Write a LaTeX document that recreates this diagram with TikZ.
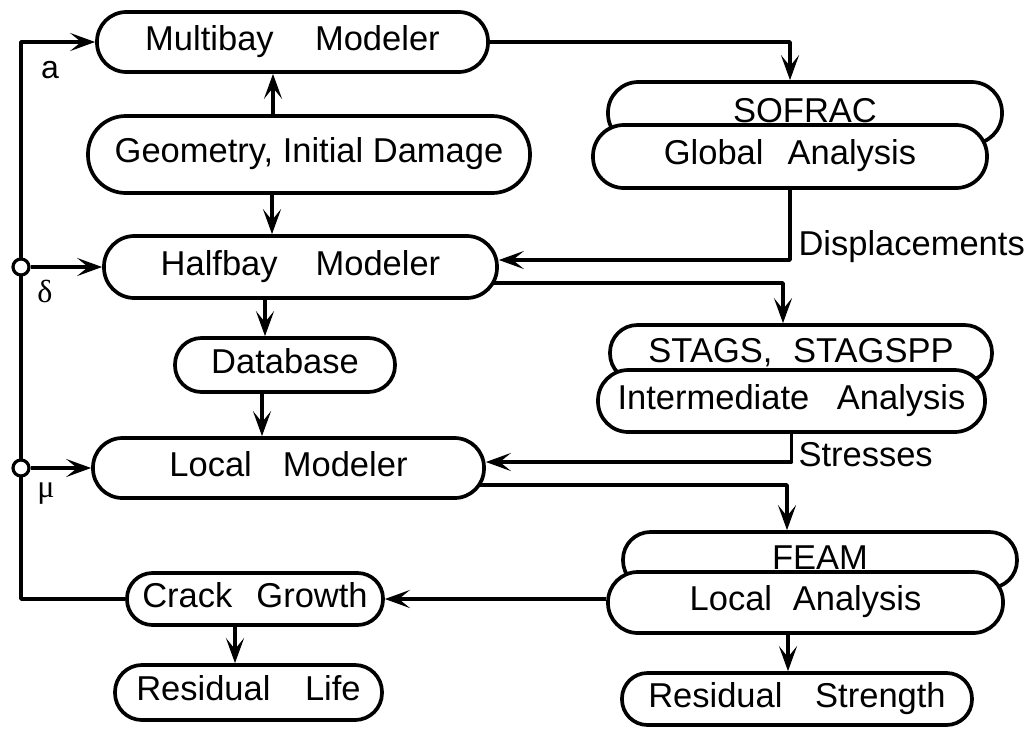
\documentclass[tikz,border=0pt]{standalone}
\usepackage{fontspec}
\setmainfont{Liberation Sans}
\newfontfamily\grk{Liberation Serif}
\usetikzlibrary{arrows.meta,backgrounds,calc}
\begin{document}
\begin{tikzpicture}[x=1pt,y=-1pt,
  every node/.style={font=\fontsize{34.5}{40}\selectfont},
  line/.style={line width=3.7pt, line join=round},
  arr/.style={line, -{Stealth[length=25pt,width=18pt,inset=11pt]}},
  box/.style n args={2}{draw, line width=3.7pt, fill=white, rectangle,
    rounded corners=#2*0.49pt, inner sep=0pt, minimum width=#1pt,
    minimum height=#2pt, text height=24.5pt, text depth=8pt},
  backbox/.style n args={2}{box={#1}{#2}, text depth=6pt},
  junction/.style={circle, draw, line width=3.2pt, fill=white,
    minimum size=16pt, inner sep=0pt},
  tag/.style={font=\fontsize{32}{36}\selectfont}
]
\useasboundingbox (0,0) rectangle (1031,729);

% left column
\node[box={391}{60}] (MB)  at (292.5,42)   {Multibay\hspace{1.2em}Modeler};
\node[box={442}{77}] (GEO) at (309,154.5)  {Geometry, Initial Damage};
\node[box={393}{62}] (HB)  at (300.5,267)  {Halfbay\hspace{1.1em}Modeler};
\node[box={220}{54}] (DB)  at (285,365)    {Database};
\node[box={391}{60}] (LM)  at (288.5,468)  {Local\hspace{0.9em}Modeler};
\node[box={256}{52}] (CG)  at (255,599)    {Crack\hspace{0.7em}Growth};
\node[box={267}{55}] (RL)  at (248.5,692.5){Residual\hspace{1em}Life};

% right column (stacked boxes)
\node[backbox={394}{62}] (sofracbox) at (805,113) {SOFRAC};
\node[box={394}{63}] (GA) at (790,156.5) {Global\hspace{0.7em}Analysis};
\node[backbox={382}{56}] (stagsbox) at (801,353) {STAGS,\hspace{0.6em}STAGSPP};
\node[box={387}{62}] (IA) at (791.5,401) {Intermediate\hspace{0.8em}Analysis};
\node[backbox={394}{56}] (feambox) at (820,560) {FEAM};
\node[box={395}{61}] (LA) at (805.5,602.5) {Local\hspace{0.6em}Analysis};
\node[box={350}{52}] (RS) at (797,699) {Residual\hspace{0.95em}Strength};

% junctions and labels
\node[junction] (cd) at (21,267) {};
\node[junction] (cm) at (21,468) {};
\node[tag] (la) at (50,70) {a};
\node[tag] (ld) at (45,291) {\grk δ};
\node[tag] (lmu) at (46,494) {\grk μ};
\node[anchor=west] (disp) at (795,247) {Displacements};
\node[anchor=west] (str) at (795,455) {Stresses};

% helper coordinates
\coordinate (lt) at (21,42);
\coordinate (lb) at (21,599);
\coordinate (k1) at (790,42);
\coordinate (k2) at (783,283);
\coordinate (k3) at (787,485);
\coordinate (xa) at (273,0);
\coordinate (xb) at (272,0);
\coordinate (xc) at (265,0);
\coordinate (xd) at (262,0);
\coordinate (xe) at (788,0);
\coordinate (xf) at (235,0);

\begin{pgfonlayer}{background}
\draw[arr] (CG.west) -- (lb) -- (lt) -- (MB.west);
\draw[arr] (cd) -- (HB.west);
\draw[arr] (cm) -- (LM.west);
\draw[arr] (GEO.north -| xa) -- (MB.south -| xa);
\draw[arr] (GEO.south -| xb) -- (HB.north -| xb);
\draw[arr] (HB.south -| xc) -- (DB.north -| xc);
\draw[arr] (DB.south -| xd) -- (LM.north -| xd);
\draw[arr] (MB.east) -- (k1) -- (k1 |- sofracbox.north);
\draw[arr] (GA.south) |- ([yshift=7pt]HB.east);
\draw[arr] ([yshift=-16pt,xshift=-20pt]HB.east) -- (k2) -- (k2 |- stagsbox.north);
\draw[arr] (IA.south) |- ([yshift=6pt]LM.east);
\draw[arr] ([yshift=-17pt,xshift=-20pt]LM.east) -- (k3) -- (k3 |- feambox.north);
\draw[arr] (CG.east -| LA.west) -- (CG.east);
\draw[arr] (LA.south -| xe) -- (RS.north -| xe);
\draw[arr] (CG.south -| xf) -- (RL.north -| xf);
\end{pgfonlayer}
\end{tikzpicture}
\end{document}
